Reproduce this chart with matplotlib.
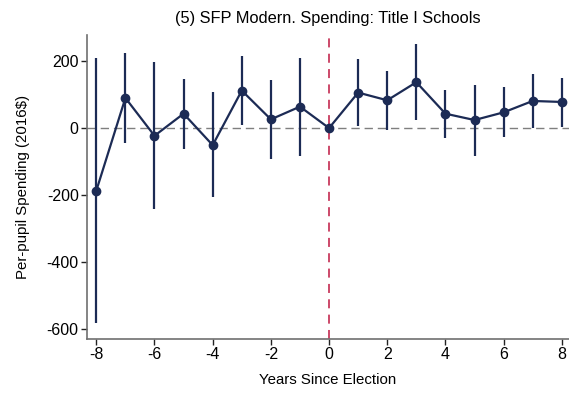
import matplotlib
matplotlib.use("Agg")
import matplotlib.pyplot as plt

plt.rcParams['font.family'] = ['Liberation Sans', 'DejaVu Sans']
plt.rcParams['axes.unicode_minus'] = False

# event-study estimates
years = [-8, -7, -6, -5, -4, -3, -2, -1, 0, 1, 2, 3, 4, 5, 6, 7, 8]
coef = [-187, 90, -23, 43, -51, 112, 26, 64, 0, 106, 83, 137, 43, 24, 47, 81, 78]
ci_hi = [210, 225, 196, 148, 108, 216, 143, 208, 0, 205, 170, 250, 115, 129, 122, 161, 150]
ci_lo = [-583, -44, -242, -63, -207, 9, -93, -83, 0, 7, -6, 24, -30, -84, -27, 1, 3]

navy = "#1c2b55"

fig = plt.figure(figsize=(5.69, 3.94), dpi=100)
ax = fig.add_axes([87 / 569, 1 - 339 / 394, (568.5 - 87) / 569, (339 - 35) / 394])

ax.axhline(0, color="#7f7f7f", lw=1, ls=(0, (6, 3.5)), zorder=1)
ax.axvline(0, color="#c83a5e", lw=1.3, ls=(0, (5, 3.5)), zorder=1)

ax.vlines(years, ci_lo, ci_hi, color=navy, lw=1.6, zorder=2)
ax.plot(years, coef, color=navy, lw=1.6, marker="o", ms=6, zorder=3)

ax.set_xlim(-8.32, 8.23)
ax.set_ylim(-630, 278)
ax.set_xticks(range(-8, 9, 2))
ax.set_yticks([-600, -400, -200, 0, 200])

for s in ["top", "right"]:
    ax.spines[s].set_visible(False)
for s in ["left", "bottom"]:
    ax.spines[s].set_color("#707070")
    ax.spines[s].set_linewidth(1.2)
ax.tick_params(labelsize=11.5, length=4, width=1, color="#222222", pad=2)

ax.set_title("(5) SFP Modern. Spending: Title I Schools", fontsize=11.8, pad=9)
ax.set_xlabel("Years Since Election", fontsize=10.8, labelpad=8)
ax.set_ylabel("Per-pupil Spending (2016$)", fontsize=10.8, labelpad=12)

fig.savefig("out.png", dpi=100)
